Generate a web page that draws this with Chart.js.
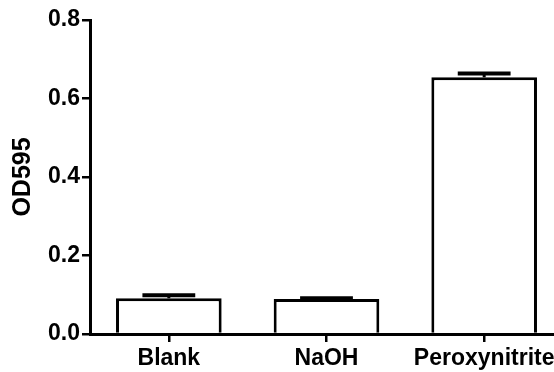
<!DOCTYPE html>
<html>
<head>
<meta charset="utf-8">
<script src="https://cdn.jsdelivr.net/npm/chart.js@4/dist/chart.umd.min.js"></script>
<style>
html,body{margin:0;padding:0;background:#fff;overflow:hidden;width:554px;height:372px;}
#wrap{position:absolute;left:0;top:0;width:563px;height:372px;}
</style>
</head>
<body>
<div id="wrap"><canvas id="c"></canvas></div>
<script>
const categories = ["Blank", "NaOH", "Peroxynitrite"];
const meanValues = [0.091, 0.089, 0.654];
const errorValues = [0.008, 0.002, 0.01];
const yTicks = [0, 0.2, 0.4, 0.6, 0.8];

const FONT = "'Liberation Sans', Arial, sans-serif";

const errorBarPlugin = {
  id: 'errorBars',
  afterDatasetsDraw(chart) {
    const ctx = chart.ctx;
    const meta = chart.getDatasetMeta(0);
    const ys = chart.scales.y;
    ctx.save();
    ctx.strokeStyle = '#000';
    meta.data.forEach((bar, i) => {
      const v = meanValues[i], e = errorValues[i];
      const yTop = ys.getPixelForValue(v + e);
      const yBar = ys.getPixelForValue(v);
      const half = bar.width / 4;
      ctx.lineWidth = 3;
      ctx.beginPath();
      ctx.moveTo(bar.x, yBar);
      ctx.lineTo(bar.x, yTop);
      ctx.stroke();
      ctx.lineWidth = 4;
      ctx.beginPath();
      ctx.moveTo(bar.x - half, yTop);
      ctx.lineTo(bar.x + half, yTop);
      ctx.stroke();
    });
    ctx.restore();
  }
};

new Chart(document.getElementById('c'), {
  type: 'bar',
  data: {
    labels: categories,
    datasets: [{
      data: meanValues,
      backgroundColor: '#ffffff',
      borderColor: '#000000',
      borderWidth: 3,
      borderSkipped: 'bottom',
      categoryPercentage: 1.0,
      barPercentage: 0.67
    }]
  },
  options: {
    responsive: true,
    maintainAspectRatio: false,
    animation: false,
    devicePixelRatio: 1,
    layout: { padding: { top: 20, right: 0, left: 0, bottom: 0 } },
    plugins: { legend: { display: false }, tooltip: { enabled: false } },
    scales: {
      x: {
        offset: true,
        grid: { display: true, drawOnChartArea: false, drawTicks: true, tickLength: 8, color: '#000', lineWidth: 2.5, offset: false },
        border: { display: true, color: '#000', width: 3 },
        ticks: { color: '#000', font: { family: FONT, size: 23, weight: 'bold' }, padding: 3, maxRotation: 0, autoSkip: false },
        afterFit(scale) { scale.height = 38; }
      },
      y: {
        min: 0, max: 0.8,
        afterBuildTicks(scale) { scale.ticks = yTicks.map(v => ({ value: v })); },
        grid: { display: true, drawOnChartArea: false, drawTicks: true, tickLength: 8, color: '#000', lineWidth: 2.5 },
        border: { display: true, color: '#000', width: 3 },
        ticks: { color: '#000', font: { family: FONT, size: 23, weight: 'bold' }, padding: 2,
          callback: (v) => Number(v).toFixed(1) },
        title: { display: true, text: 'OD595', color: '#000', font: { family: FONT, size: 25, weight: 'bold' }, padding: { top: 8, bottom: 0 } },
        afterFit(scale) { scale.width = 90; }
      }
    }
  },
  plugins: [errorBarPlugin]
});
</script>
</body>
</html>
